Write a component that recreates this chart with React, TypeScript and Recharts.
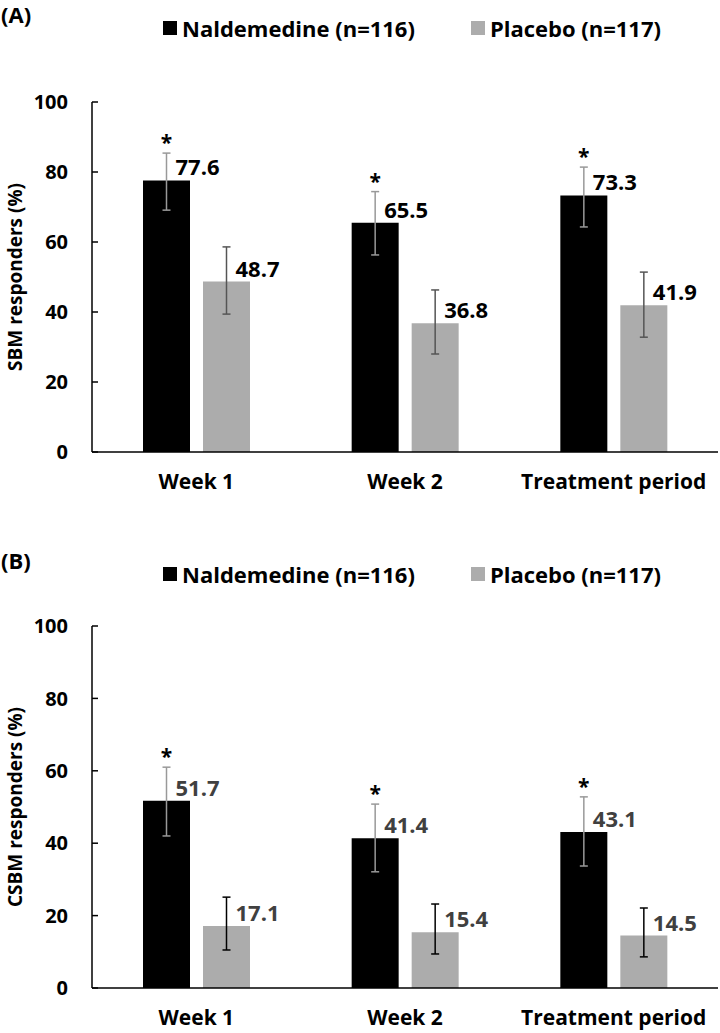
import React from 'react';
import { BarChart, Bar, XAxis, YAxis, ErrorBar, LabelList, Legend } from 'recharts';

const categories = ['Week 1', 'Week 2', 'Treatment period'];
const seriesNames = ['Naldemedine (n=116)', 'Placebo (n=117)'];
const yTicks = [0, 20, 40, 60, 80, 100];
const significant = [true, true, true];

// (A) SBM responders
const sbmNaldemedine = [77.6, 65.5, 73.3];
const sbmPlacebo = [48.7, 36.8, 41.9];
// [minus, plus] around each value
const sbmNaldemedineErr = [[8.5, 7.8], [9.2, 8.9], [9.0, 8.1]];
const sbmPlaceboErr = [[9.3, 9.9], [8.8, 9.5], [9.1, 9.5]];

// (B) CSBM responders
const csbmNaldemedine = [51.7, 41.4, 43.1];
const csbmPlacebo = [17.1, 15.4, 14.5];
const csbmNaldemedineErr = [[9.7, 9.3], [9.3, 9.4], [9.4, 9.7]];
const csbmPlaceboErr = [[6.6, 8.0], [6.0, 7.8], [5.9, 7.6]];

const FONT = '"Open Sans", sans-serif';

const renderLegend = (props: any) => (
  <div style={{ display: 'flex', alignItems: 'center', fontFamily: FONT, whiteSpace: 'nowrap' }}>
    {props.payload.map((entry: any, i: number) => (
      <div key={i} style={{ display: 'flex', alignItems: 'center', flexShrink: 0, marginLeft: i > 0 ? 56 : 0 }}>
        <span style={{ width: 14, height: 14, background: entry.color, display: 'inline-block', marginRight: 5, flexShrink: 0 }} />
        <span style={{ fontSize: 22, fontWeight: 700, lineHeight: '20px', color: '#000' }}>{entry.value}</span>
      </div>
    ))}
  </div>
);

const valueLabel = (color: string) => (props: any) => {
  const { x, y, width, value } = props;
  return (
    <text x={Number(x) + Number(width) / 2 + 9} y={Number(y) - 14} dominantBaseline="central"
      fill={color} fontSize={22} fontWeight={700} fontFamily={FONT}>
      {Number(value).toFixed(1)}
    </text>
  );
};

const starLabel = (errs: number[][]) => (props: any) => {
  const { x, y, width, height, value, index } = props;
  if (!significant[index]) return null;
  const errTop = Number(y) - (errs[index][1] * Number(height)) / Number(value);
  return (
    <text x={Number(x) + Number(width) / 2} y={errTop - 3} textAnchor="middle"
      fill="#000" fontSize={21} fontWeight={700} fontFamily={FONT}>
      *
    </text>
  );
};

interface PanelProps {
  tag: string;
  yLabel: string;
  nal: number[];
  pla: number[];
  nalErr: number[][];
  plaErr: number[][];
  top: number;
  height: number;
  plotTop: number;
  plotBottom: number;
  labelColor: string;
  nalErrColor: string;
  plaErrColor: string;
}

const Panel: React.FC<PanelProps> = (p) => {
  const data = categories.map((c, i) => ({
    category: c,
    nal: p.nal[i],
    pla: p.pla[i],
    nalErr: p.nalErr[i],
    plaErr: p.plaErr[i],
  }));
  const xAxisHeight = 40;

  return (
    <div style={{ position: 'absolute', left: 0, top: p.top, width: 720, height: p.height, fontFamily: FONT }}>
      <div style={{ position: 'absolute', left: 1, top: 0, fontSize: 22, fontWeight: 700, lineHeight: '28px' }}>{p.tag}</div>
      <BarChart
        width={720}
        height={p.height}
        data={data}
        barSize={47}
        barGap={13}
        margin={{ top: p.plotTop, right: 2, left: 22, bottom: p.height - p.plotBottom - xAxisHeight }}
      >
        <XAxis
          dataKey="category"
          interval={0}
          height={xAxisHeight}
          axisLine={{ stroke: '#000', strokeWidth: 1.5 }}
          tickLine={false}
          tickSize={0}
          tickMargin={22}
          tick={{ fill: '#000', fontSize: 21, fontWeight: 700, fontFamily: FONT }}
        />
        <YAxis
          domain={[0, 100]}
          ticks={yTicks}
          interval={0}
          width={70}
          axisLine={{ stroke: '#000', strokeWidth: 1.5 }}
          tickLine={{ stroke: '#000', strokeWidth: 1.5 }}
          tickSize={-6}
          tickMargin={30}
          tick={{ fill: '#000', fontSize: 20, fontWeight: 700, fontFamily: FONT }}
          label={{
            value: p.yLabel,
            angle: -90,
            position: 'center',
            dx: -42,
            style: { fill: '#000', fontSize: 19, fontWeight: 700, fontFamily: FONT },
          }}
        />
        <Legend
          layout="horizontal"
          verticalAlign="middle"
          align="center"
          content={renderLegend}
          wrapperStyle={{ top: 18, left: 163, width: 555, height: 20 }}
        />
        <Bar dataKey="nal" name={seriesNames[0]} fill="#000000" isAnimationActive={false}>
          <ErrorBar dataKey="nalErr" direction="y" width={4} stroke={p.nalErrColor} strokeWidth={1.5} />
          <LabelList dataKey="nal" content={valueLabel(p.labelColor)} />
          <LabelList dataKey="nal" content={starLabel(p.nalErr)} />
        </Bar>
        <Bar dataKey="pla" name={seriesNames[1]} fill="#acacac" isAnimationActive={false}>
          <ErrorBar dataKey="plaErr" direction="y" width={4} stroke={p.plaErrColor} strokeWidth={1.5} />
          <LabelList dataKey="pla" content={valueLabel(p.labelColor)} />
        </Bar>
      </BarChart>
    </div>
  );
};

export default function App() {
  return (
    <div style={{ position: 'absolute', left: 0, top: 0, width: 720, height: 1033, background: '#fff' }}>
      <Panel
        tag="(A)"
        yLabel="SBM responders (%)"
        nal={sbmNaldemedine}
        pla={sbmPlacebo}
        nalErr={sbmNaldemedineErr}
        plaErr={sbmPlaceboErr}
        top={0}
        height={510}
        plotTop={102}
        plotBottom={452}
        labelColor="#000000"
        nalErrColor="#999999"
        plaErrColor="#555555"
      />
      <Panel
        tag="(B)"
        yLabel="CSBM responders (%)"
        nal={csbmNaldemedine}
        pla={csbmPlacebo}
        nalErr={csbmNaldemedineErr}
        plaErr={csbmPlaceboErr}
        top={546}
        height={487}
        plotTop={80}
        plotBottom={442}
        labelColor="#404040"
        nalErrColor="#999999"
        plaErrColor="#000000"
      />
    </div>
  );
}
